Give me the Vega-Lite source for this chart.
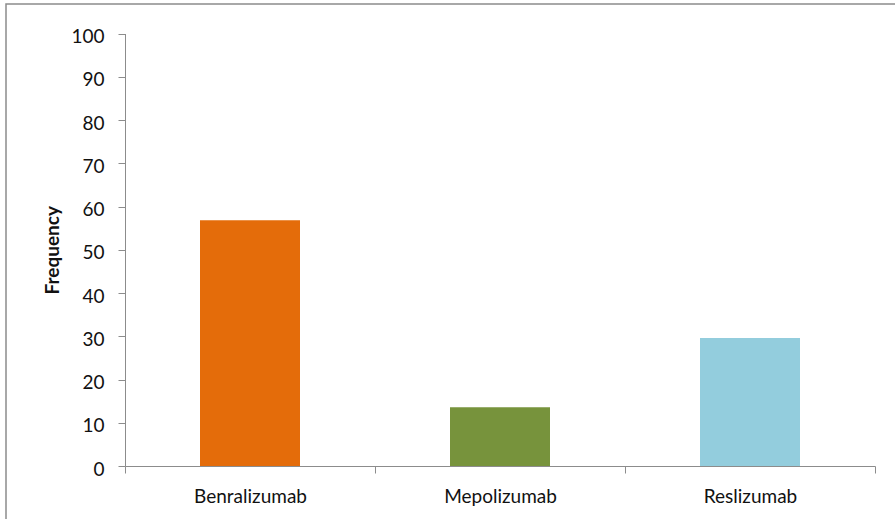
{
  "$schema": "https://vega.github.io/schema/vega-lite/v6.json",
  "autosize": "none",
  "padding": {"left": 6, "top": 4, "right": 0, "bottom": 0},
  "width": 900,
  "height": 520,
  "background": "white",
  "config": {
    "view": {"stroke": "#8c8c8c", "strokeWidth": 1.5},
    "font": "Lato"
  },
  "data": {
    "values": [
      {"drug": "Benralizumab", "frequency": 56.8},
      {"drug": "Mepolizumab", "frequency": 13.6},
      {"drug": "Reslizumab", "frequency": 29.6}
    ]
  },
  "mark": {"type": "bar", "width": {"band": 0.4}},
  "encoding": {
    "x": {
      "field": "drug",
      "type": "nominal",
      "sort": null,
      "scale": {"range": [119, 869], "paddingInner": 0, "paddingOuter": 0},
      "axis": {
        "title": null,
        "labelAngle": 0,
        "offset": -58,
        "tickBand": "extent",
        "domainColor": "#8c8c8c",
        "tickColor": "#8c8c8c",
        "tickSize": 7,
        "labelPadding": 14,
        "labelFont": "Lato",
        "labelFontSize": 19,
        "labelColor": "#111111"
      }
    },
    "y": {
      "field": "frequency",
      "type": "quantitative",
      "scale": {"domain": [0, 100], "range": [462, 29.5], "nice": false},
      "axis": {
        "title": "Frequency",
        "values": [0, 10, 20, 30, 40, 50, 60, 70, 80, 90, 100],
        "grid": false,
        "offset": -119,
        "domainColor": "#8c8c8c",
        "tickColor": "#8c8c8c",
        "tickSize": 7,
        "labelPadding": 14,
        "labelOffset": 3,
        "labelFont": "Lato",
        "labelFontSize": 19,
        "labelColor": "#111111",
        "titleFont": "Lato",
        "titleFontSize": 19,
        "titleFontWeight": "bold",
        "titleColor": "#111111",
        "titlePadding": 8
      }
    },
    "color": {
      "field": "drug",
      "type": "nominal",
      "scale": {
        "domain": ["Benralizumab", "Mepolizumab", "Reslizumab"],
        "range": ["#e46c0a", "#77933c", "#93cddd"]
      },
      "legend": null
    }
  }
}
